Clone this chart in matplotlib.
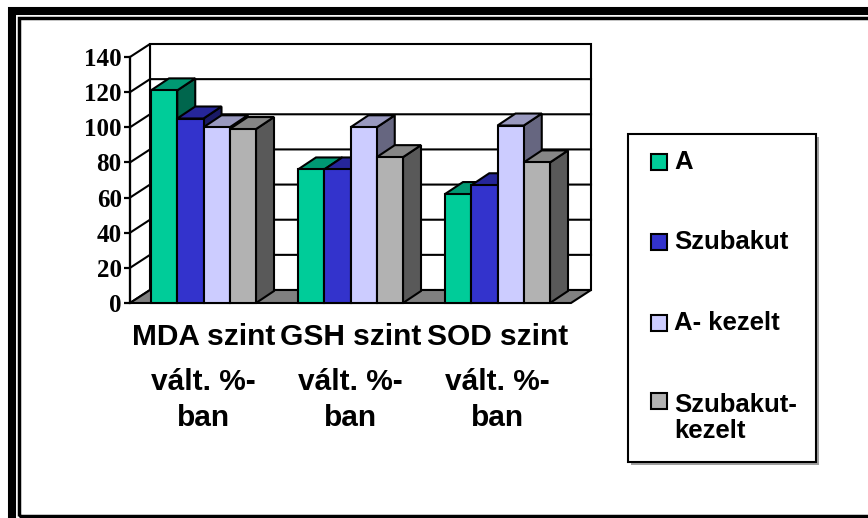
import matplotlib
matplotlib.use("Agg")
import matplotlib.pyplot as plt
from matplotlib.patches import Rectangle, Polygon

categories = ["MDA szint", "GSH szint", "SOD szint"]
label_rest = [["vált. %-", "ban"], ["vált. %-", "ban"], ["vált. %-", "ban"]]
series = ["A", "Szubakut", "A- kezelt", "Szubakut-\nkezelt"]
vals_A = [121, 76, 62]
vals_szubakut = [105, 76, 67]
vals_a_kezelt = [100, 100, 101]
vals_szubakut_kezelt = [99, 83, 80]
yticks = [0, 20, 40, 60, 80, 100, 120, 140]

values = [vals_A, vals_szubakut, vals_a_kezelt, vals_szubakut_kezelt]
front = ["#00CC99", "#3333CC", "#CCCCFF", "#B2B2B2"]
top = ["#009973", "#262699", "#9999BF", "#868686"]
side = ["#00664D", "#1A1A66", "#666680", "#595959"]

W, H = 868, 518
fig = plt.figure(figsize=(W / 100, H / 100), dpi=100)
fig.patch.set_facecolor("white")

def fx(x):
    return x / W

def fy(y):
    return 1 - y / H

# front plane of the 3d box: x 130..571 px, y 303 (0) .. 57 (140)
ax = fig.add_axes([fx(130), fy(303), (571 - 130) / W, (303 - 57) / H])
ax.set_xlim(-0.5, 2.5)
ax.set_ylim(0, 140)
ax.set_facecolor("none")
for s in ["top", "right", "bottom"]:
    ax.spines[s].set_visible(False)
ax.spines["left"].set_linewidth(1.6)
ax.set_xticks([])
ax.set_yticks(yticks)
ax.tick_params(axis="y", direction="out", length=4, width=1.6, pad=2)
for lab in ax.get_yticklabels():
    lab.set_fontfamily("Liberation Serif")
    lab.set_fontweight("bold")
    lab.set_fontsize(18)

px_x = 441 / 3.0   # pixels per category
px_y = 246 / 140.0  # pixels per unit
wdx, wdy = 20 / px_x, 13 / px_y   # wall depth
bdx, bdy = 18 / px_x, 12 / px_y   # bar depth
lw = 1.5

# back wall
ax.add_patch(Rectangle((-0.5 + wdx, wdy), 3, 140, facecolor="white",
                       edgecolor="black", lw=lw, clip_on=False, zorder=1))
# left wall
ax.add_patch(Polygon([(-0.5, 0), (-0.5 + wdx, wdy), (-0.5 + wdx, 140 + wdy), (-0.5, 140)],
                     closed=True, facecolor="white", edgecolor="black", lw=lw,
                     clip_on=False, zorder=1))
for v in yticks[1:-1]:
    ax.plot([-0.5, -0.5 + wdx, 2.5 + wdx], [v, v + wdy, v + wdy], color="black",
            lw=lw, clip_on=False, zorder=2)
# floor
ax.add_patch(Polygon([(-0.5, 0), (2.5, 0), (2.5 + wdx, wdy), (-0.5 + wdx, wdy)],
                     closed=True, facecolor="#808080", edgecolor="black", lw=lw,
                     clip_on=False, zorder=3))

bw = 0.1786
z = 4
for j in range(len(categories)):
    for i in range(len(series)):
        x0 = j - 2 * bw + i * bw
        h = values[i][j]
        ax.add_patch(Polygon([(x0 + bw, 0), (x0 + bw + bdx, bdy), (x0 + bw + bdx, h + bdy), (x0 + bw, h)],
                             closed=True, facecolor=side[i], edgecolor="black", lw=lw,
                             clip_on=False, zorder=z))
        ax.add_patch(Polygon([(x0, h), (x0 + bdx, h + bdy), (x0 + bw + bdx, h + bdy), (x0 + bw, h)],
                             closed=True, facecolor=top[i], edgecolor="black", lw=lw,
                             clip_on=False, zorder=z))
        ax.bar(x0, h, width=bw, align="edge", color=front[i], edgecolor="black",
               lw=lw, clip_on=False, zorder=z)
        z += 1

# category labels, three lines each
lab_font = dict(family="Liberation Sans", weight="bold", fontsize=21.5, color="black")
for j, cat in enumerate(categories):
    xc = ax.transData.transform((j, 0))[0] / W
    fig.text(xc, fy(345), cat, ha="center", va="baseline", **lab_font)
    fig.text(xc, fy(390), label_rest[j][0], ha="center", va="baseline", **lab_font)
    fig.text(xc, fy(426), label_rest[j][1], ha="center", va="baseline", **lab_font)

# legend
fig.add_artist(Rectangle((fx(631), fy(465)), (816 - 628) / W, (462 - 134) / H,
                         transform=fig.transFigure, facecolor="#A0A0A0", edgecolor="none"))
fig.add_artist(Rectangle((fx(628), fy(462)), (816 - 628) / W, (462 - 134) / H,
                         transform=fig.transFigure, facecolor="white", edgecolor="black", lw=1.5))
leg_rows = [162, 242, 323, 401]
leg_text_y = [162, 242, 323, 418]
for i, name in enumerate(series):
    yc = leg_rows[i]
    fig.add_artist(Rectangle((fx(651), fy(yc + 8)), 16 / W, 16 / H, transform=fig.transFigure,
                             facecolor=front[i], edgecolor="black", lw=1.5))
    fig.text(fx(674), fy(leg_text_y[i]), name, ha="left", va="center",
             family="Liberation Sans", weight="bold", fontsize=18.5, linespacing=1.1)

# frame
fig.add_artist(Rectangle((fx(12), fy(540)), (900 - 12) / W, (540 - 11) / H,
                         transform=fig.transFigure, fill=False, edgecolor="black", lw=5.8))
fig.add_artist(Rectangle((fx(19), fy(516)), (900 - 19) / W, (516 - 18) / H,
                         transform=fig.transFigure, fill=False, edgecolor="black", lw=2.5))

fig.savefig("out.png", dpi=100, facecolor="white")
